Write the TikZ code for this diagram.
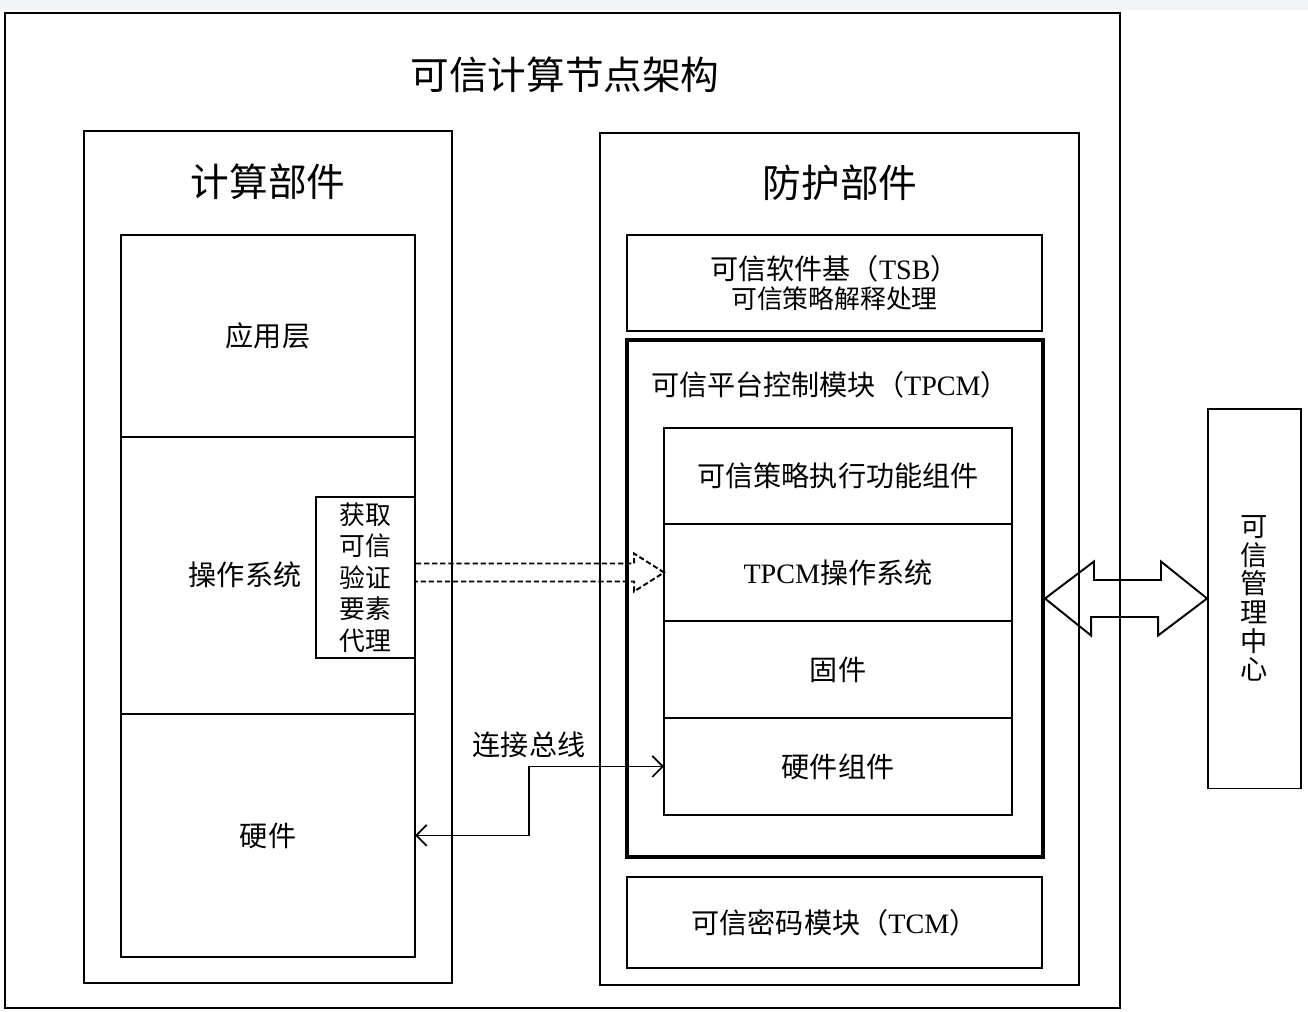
\documentclass[tikz,border=0pt]{standalone}
\usepackage{fontspec}
\setmainfont{Liberation Serif}
\newfontfamily\cjk{Noto Sans CJK SC}
\usetikzlibrary{positioning,calc,arrows.meta}
\definecolor{topgray}{HTML}{F3F4F6}
\newcommand{\en}[1]{{\rmfamily #1}}
\begin{document}
\begin{tikzpicture}[x=0.02cm,y=-0.02cm,
        box/.style={draw, rectangle, line width=1.1pt, inner sep=0pt},
        cell/.style={box, outer sep=0pt},
        bigtitle/.style={font=\cjk\fontsize{22}{26}\selectfont},
        txt/.style={font=\cjk\fontsize{16}{19}\selectfont},
        smalltxt/.style={font=\cjk\fontsize{14.7}{18}\selectfont}]
        \useasboundingbox (0,0) rectangle (1308,1011);
        \fill[topgray] (0,0) rectangle (1308,10);

        % node frame
        \node (node) [box, minimum width=22.3cm, minimum height=19.9cm] at (562.5,510.5) {};
        \node (nodetitle) [bigtitle] at (565,75) {可信计算节点架构};

        % computing part
        \node (comp) [box, minimum width=7.36cm, minimum height=17.04cm] at (268,557) {};
        \node (comptitle) [bigtitle] at (268,182) {计算部件};
        \node (app) [cell, txt, minimum width=5.88cm, minimum height=4.04cm] at (268,336) {应用层};
        \node (os) [cell, minimum width=5.88cm, minimum height=5.54cm, below=0pt of app] {};
        \node (hw) [cell, txt, minimum width=5.88cm, minimum height=4.86cm, below=0pt of os] {硬件};
        \node (oslabel) [txt] at (245,575) {操作系统};
        \node (agent) [box, smalltxt, align=center, minimum width=1.98cm, minimum height=3.22cm] at (365.5,577.5) {获取\\可信\\验证\\要素\\代理};

        % protection part
        \node (prot) [box, minimum width=9.58cm, minimum height=17.04cm] at (839.5,559) {};
        \node (prottitle) [bigtitle] at (840,183) {防护部件};
        \node (tsb) [box, txt, align=center, minimum width=8.3cm, minimum height=1.92cm] at (834.5,283)
            {可信软件基（\en{TSB}）\\[-2pt]{\fontsize{14.7}{18}\selectfont 可信策略解释处理}};
        \node (tpcm) [box, line width=2.3pt, minimum width=8.32cm, minimum height=10.34cm] at (835,598.5) {};
        \node (tpcmtitle) [txt] at (830,385) {可信平台控制模块（\en{TPCM}）};
        \node (exec) [cell, txt, minimum width=6.96cm, minimum height=1.92cm] at (838,476) {可信策略执行功能组件};
        \node (tos) [cell, txt, minimum width=6.96cm, minimum height=1.94cm, below=0pt of exec] {\en{TPCM}操作系统};
        \node (fw) [cell, txt, minimum width=6.96cm, minimum height=1.94cm, below=0pt of tos] {固件};
        \node (hwc) [cell, txt, minimum width=6.96cm, minimum height=1.94cm, below=0pt of fw] {硬件组件};
        \node (tcm) [box, txt, minimum width=8.3cm, minimum height=1.82cm] at (834.5,922.5) {可信密码模块（\en{TCM}）};

        % management centre
        \node (tmc) [box, font=\cjk\fontsize{15.5}{16.3}\selectfont, align=center, minimum width=1.86cm, minimum height=7.6cm] at (1254.5,598.5)
            {可\\信\\管\\理\\中\\心};

        % connectors
        \draw[line width=1.1pt, dash pattern=on 3pt off 1.6pt]
            ($(agent.east |- tos.west)+(0,-9)$) -- ($(tos.west)+(-30,-9)$) -- ($(tos.west)+(-30,-19)$)
            -- (tos.west) -- ($(tos.west)+(-30,19)$) -- ($(tos.west)+(-30,9)$) -- ($(agent.east |- tos.west)+(0,9)$);
        \draw[line width=1.1pt] (tpcm.east) -- ++(49,-37) -- ++(0,18.5) -- ++(67,0) -- ++(0,-18.5) -- (tmc.west)
            -- ++(-49,37) -- ++(0,-18.5) -- ++(-67,0) -- ++(0,18.5) -- cycle;
        \draw[line width=1pt, {Straight Barb[length=6pt,width=12pt]}-{Straight Barb[length=6pt,width=12pt]}]
            (hwc.west) -- ($(hwc.west)+(-135,0)$) node (buslabel) [txt, anchor=south, yshift=1pt] {连接总线} |- (hw.east);
\end{tikzpicture}
\end{document}
